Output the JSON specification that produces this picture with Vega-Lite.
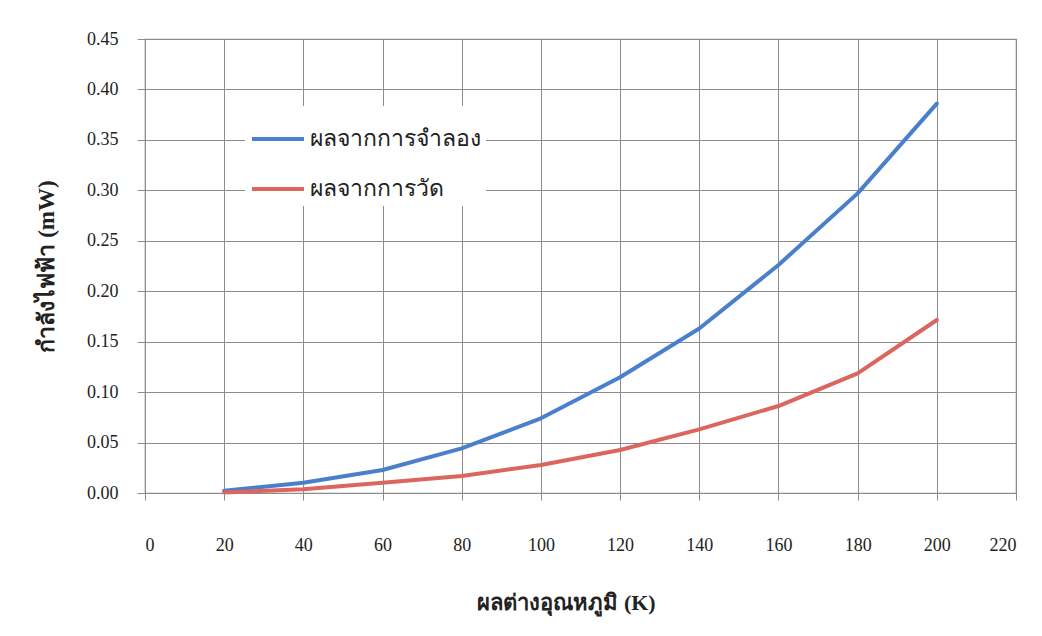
{
  "$schema": "https://vega.github.io/schema/vega-lite/v6.json",
  "width": 871,
  "height": 454,
  "autosize": "none",
  "padding": {"left": 145, "top": 39, "right": 26, "bottom": 143},
  "background": "white",
  "config": {
    "font": "Liberation Serif",
    "view": {"stroke": "#8c8c8c", "strokeWidth": 1.2}
  },
  "data": {
    "values": [
      {"K": 20, "P": 0.0023, "series": "ผลจากการจำลอง"},
      {"K": 40, "P": 0.0102, "series": "ผลจากการจำลอง"},
      {"K": 60, "P": 0.0228, "series": "ผลจากการจำลอง"},
      {"K": 80, "P": 0.0443, "series": "ผลจากการจำลอง"},
      {"K": 100, "P": 0.074, "series": "ผลจากการจำลอง"},
      {"K": 120, "P": 0.1147, "series": "ผลจากการจำลอง"},
      {"K": 140, "P": 0.163, "series": "ผลจากการจำลอง"},
      {"K": 160, "P": 0.226, "series": "ผลจากการจำลอง"},
      {"K": 180, "P": 0.297, "series": "ผลจากการจำลอง"},
      {"K": 200, "P": 0.386, "series": "ผลจากการจำลอง"},
      {"K": 20, "P": 0.0005, "series": "ผลจากการวัด"},
      {"K": 40, "P": 0.0037, "series": "ผลจากการวัด"},
      {"K": 60, "P": 0.0102, "series": "ผลจากการวัด"},
      {"K": 80, "P": 0.0168, "series": "ผลจากการวัด"},
      {"K": 100, "P": 0.0278, "series": "ผลจากการวัด"},
      {"K": 120, "P": 0.0426, "series": "ผลจากการวัด"},
      {"K": 140, "P": 0.0631, "series": "ผลจากการวัด"},
      {"K": 160, "P": 0.0862, "series": "ผลจากการวัด"},
      {"K": 180, "P": 0.1186, "series": "ผลจากการวัด"},
      {"K": 200, "P": 0.1715, "series": "ผลจากการวัด"}
    ]
  },
  "mark": {"type": "line", "strokeWidth": 4, "strokeCap": "round", "strokeJoin": "round"},
  "encoding": {
    "x": {
      "field": "K",
      "type": "quantitative",
      "scale": {"domain": [0, 220], "nice": false, "zero": false},
      "axis": {
        "values": [0, 20, 40, 60, 80, 100, 120, 140, 160, 180, 200, 220],
        "title": "ผลต่างอุณหภูมิ (K)",
        "domain": false,
        "grid": true,
        "gridColor": "#8c8c8c",
        "gridOpacity": 1,
        "tickColor": "#8c8c8c",
        "tickSize": 7,
        "labelPadding": 36,
        "labelFontSize": 18,
        "labelColor": "#222",
        "titleFontSize": 22,
        "titleFontWeight": "bold",
        "titleColor": "#222",
        "titlePadding": 38,
        "titleX": 421
      }
    },
    "y": {
      "field": "P",
      "type": "quantitative",
      "scale": {"domain": [0, 0.45], "nice": false},
      "axis": {
        "values": [0, 0.05, 0.1, 0.15, 0.2, 0.25, 0.3, 0.35, 0.4, 0.45],
        "format": ".2f",
        "title": "กำลังไฟฟ้า (mW)",
        "domain": false,
        "grid": true,
        "gridColor": "#8c8c8c",
        "gridOpacity": 1,
        "tickColor": "#8c8c8c",
        "tickSize": 8,
        "labelPadding": 19,
        "labelFontSize": 18,
        "labelColor": "#222",
        "titleFontSize": 23,
        "titleFontWeight": "bold",
        "titleColor": "#222",
        "titlePadding": 28
      }
    },
    "color": {
      "field": "series",
      "type": "nominal",
      "scale": {"domain": ["ผลจากการจำลอง", "ผลจากการวัด"], "range": ["#4a7fcc", "#dc655d"]},
      "legend": {
        "title": null,
        "orient": "none",
        "legendX": 100,
        "legendY": 67,
        "fillColor": "white",
        "padding": 5,
        "symbolType": "stroke",
        "symbolSize": 2700,
        "symbolStrokeWidth": 4,
        "labelFontSize": 23,
        "labelLimit": 400,
        "labelColor": "#222",
        "labelOffset": 4,
        "rowPadding": 10
      }
    }
  }
}
